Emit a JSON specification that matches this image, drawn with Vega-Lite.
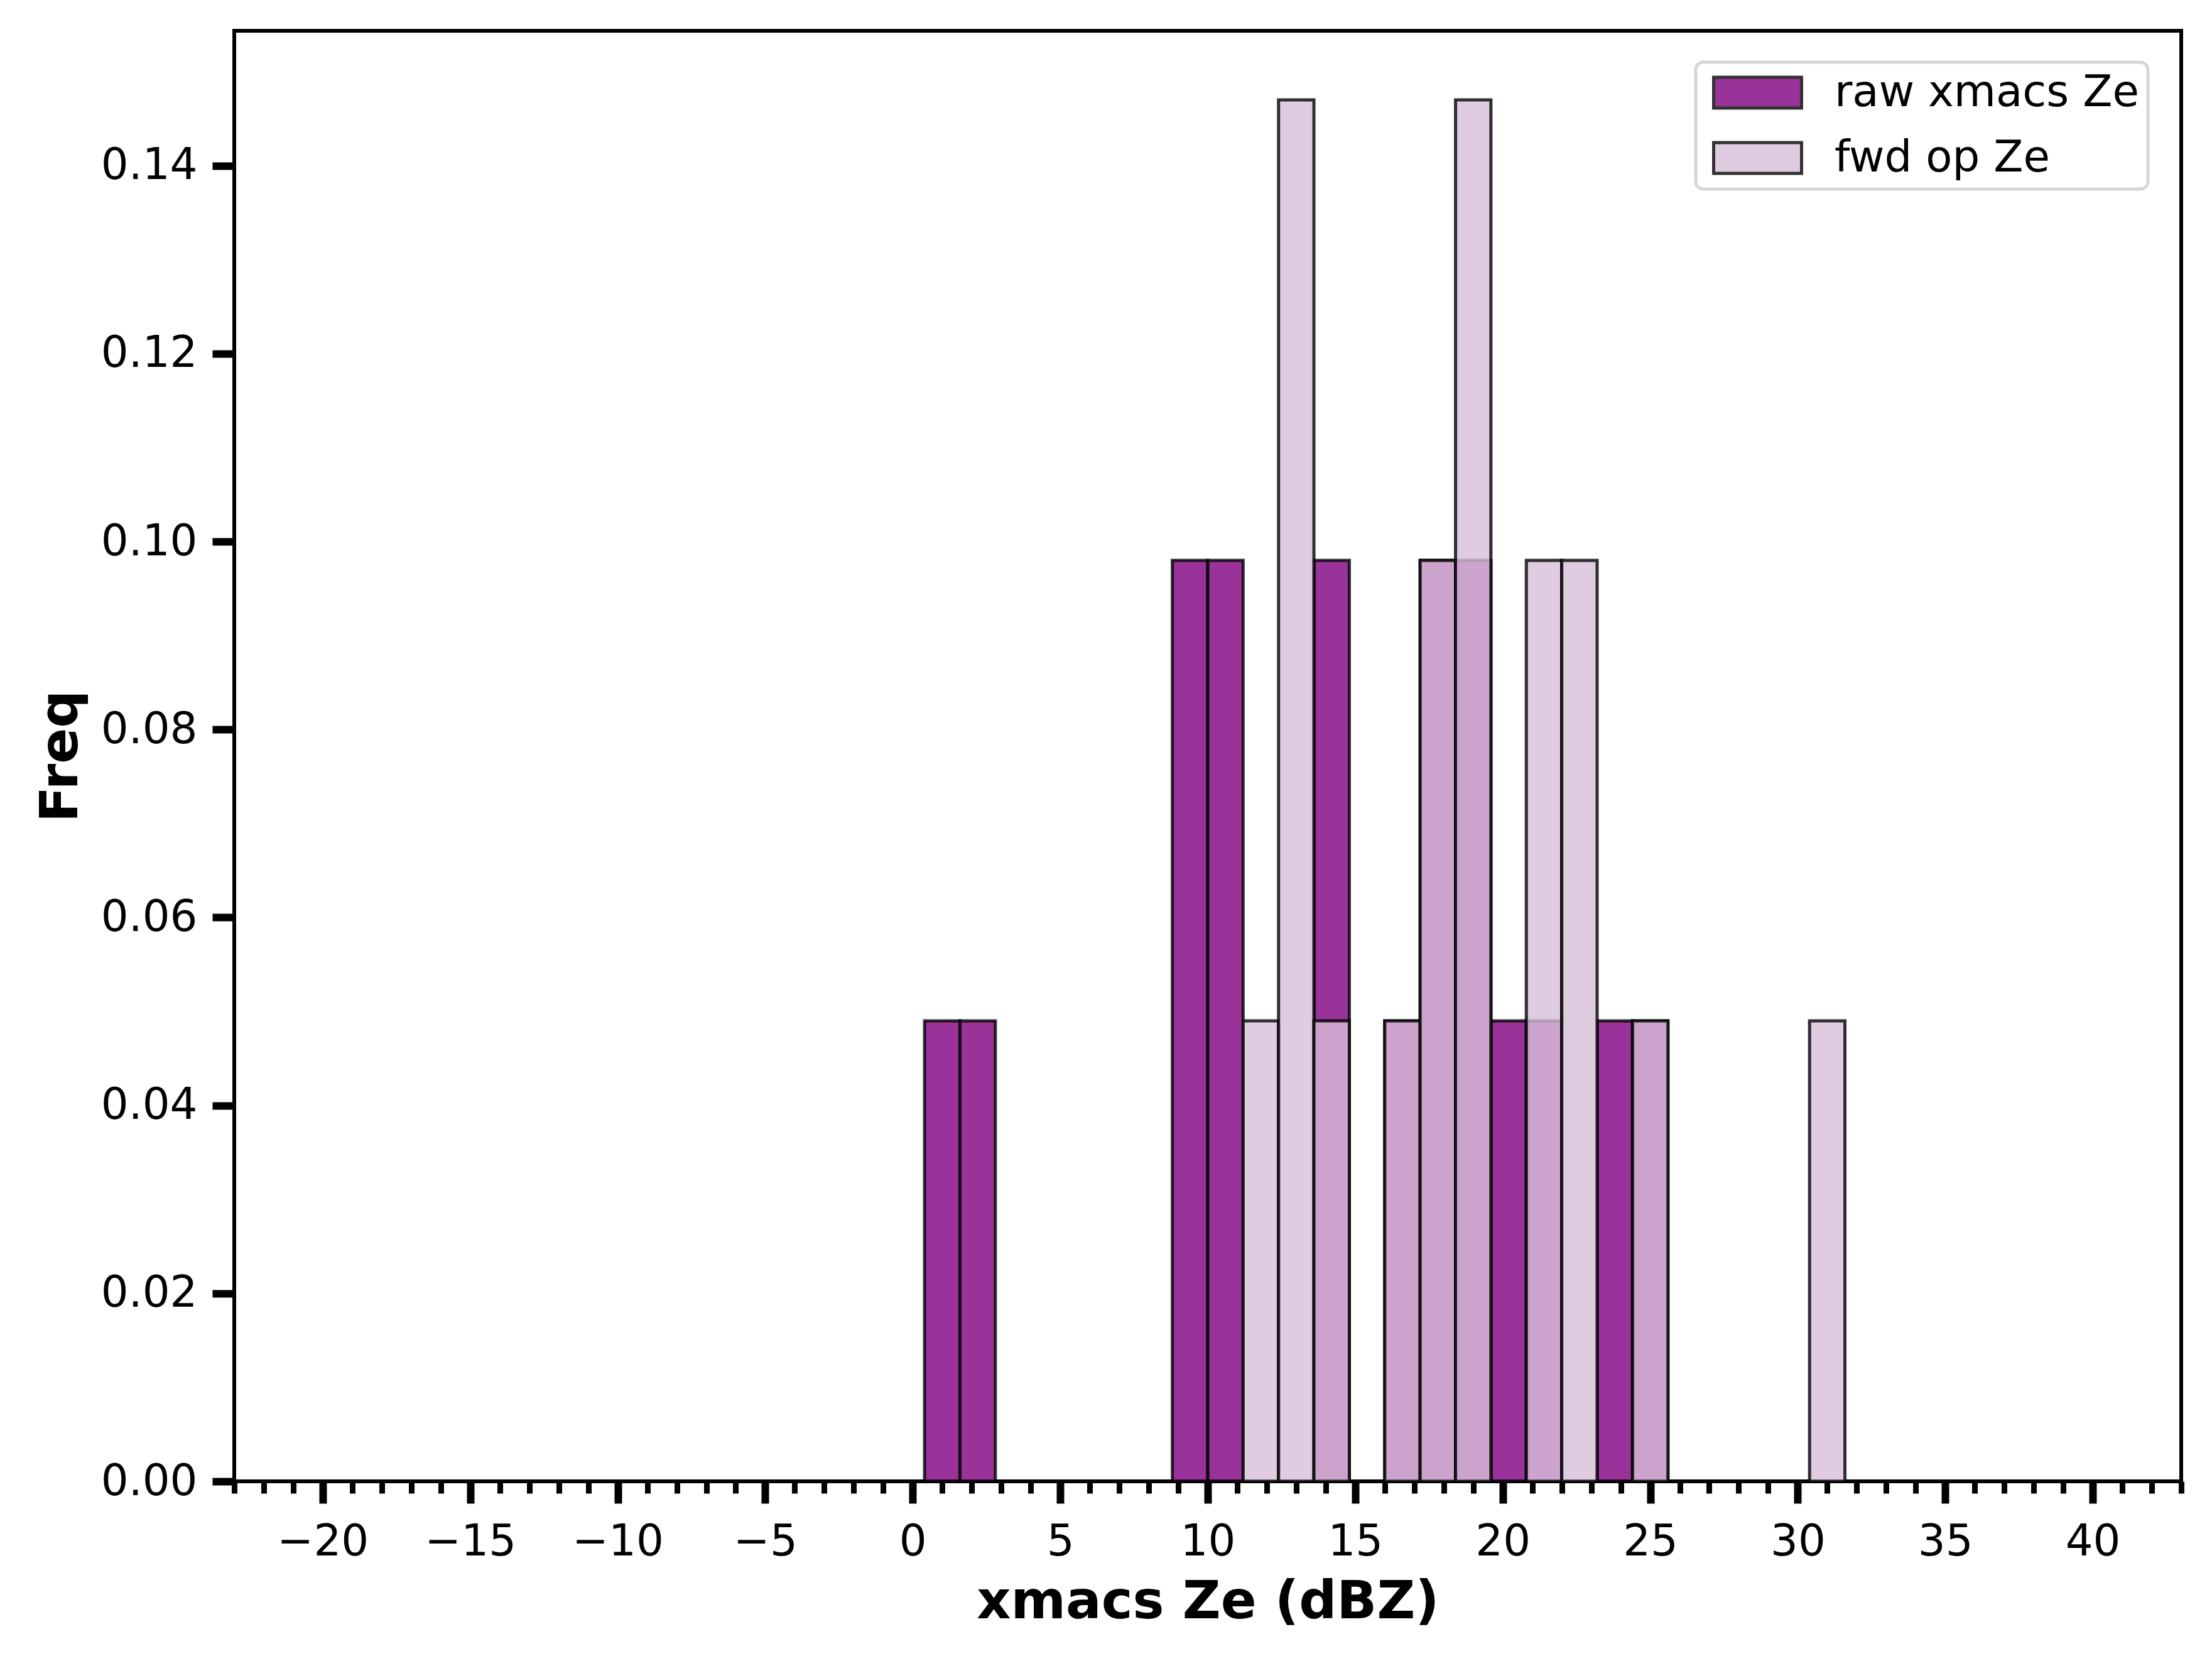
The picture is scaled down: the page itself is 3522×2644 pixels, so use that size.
{
  "$schema": "https://vega.github.io/schema/vega-lite/v6.json",
  "width": 3100,
  "height": 2309,
  "autosize": {"type": "none"},
  "padding": {"left": 373, "top": 49, "right": 49, "bottom": 286},
  "background": "white",
  "config": {
    "view": {"stroke": "black", "strokeWidth": 6},
    "font": "DejaVu Sans",
    "legend": {"strokeWidth": 5},
    "axis": {
      "labelFont": "DejaVu Sans",
      "labelFontSize": 69,
      "labelColor": "black",
      "titleFont": "DejaVu Sans",
      "titleFontSize": 84,
      "titleFontWeight": "bold",
      "titleColor": "black",
      "tickColor": "black",
      "domain": false,
      "grid": false
    }
  },
  "data": {
    "values": [
      {"series": "raw xmacs Ze", "bin_start": 0.4, "bin_end": 1.6, "freq": 0.049},
      {"series": "raw xmacs Ze", "bin_start": 1.6, "bin_end": 2.8, "freq": 0.049},
      {"series": "raw xmacs Ze", "bin_start": 8.8, "bin_end": 10.0, "freq": 0.098},
      {"series": "raw xmacs Ze", "bin_start": 10.0, "bin_end": 11.2, "freq": 0.098},
      {"series": "raw xmacs Ze", "bin_start": 13.6, "bin_end": 14.8, "freq": 0.098},
      {"series": "raw xmacs Ze", "bin_start": 16.0, "bin_end": 17.2, "freq": 0.049},
      {"series": "raw xmacs Ze", "bin_start": 17.2, "bin_end": 18.4, "freq": 0.098},
      {"series": "raw xmacs Ze", "bin_start": 18.4, "bin_end": 19.6, "freq": 0.098},
      {"series": "raw xmacs Ze", "bin_start": 19.6, "bin_end": 20.8, "freq": 0.049},
      {"series": "raw xmacs Ze", "bin_start": 20.8, "bin_end": 22.0, "freq": 0.049},
      {"series": "raw xmacs Ze", "bin_start": 23.2, "bin_end": 24.4, "freq": 0.049},
      {"series": "raw xmacs Ze", "bin_start": 24.4, "bin_end": 25.6, "freq": 0.049},
      {"series": "fwd op Ze", "bin_start": 11.2, "bin_end": 12.4, "freq": 0.049},
      {"series": "fwd op Ze", "bin_start": 12.4, "bin_end": 13.6, "freq": 0.147},
      {"series": "fwd op Ze", "bin_start": 13.6, "bin_end": 14.8, "freq": 0.049},
      {"series": "fwd op Ze", "bin_start": 16.0, "bin_end": 17.2, "freq": 0.049},
      {"series": "fwd op Ze", "bin_start": 17.2, "bin_end": 18.4, "freq": 0.098},
      {"series": "fwd op Ze", "bin_start": 18.4, "bin_end": 19.6, "freq": 0.147},
      {"series": "fwd op Ze", "bin_start": 20.8, "bin_end": 22.0, "freq": 0.098},
      {"series": "fwd op Ze", "bin_start": 22.0, "bin_end": 23.2, "freq": 0.098},
      {"series": "fwd op Ze", "bin_start": 24.4, "bin_end": 25.6, "freq": 0.049},
      {"series": "fwd op Ze", "bin_start": 30.4, "bin_end": 31.6, "freq": 0.049}
    ]
  },
  "mark": {
    "type": "bar",
    "stroke": "black",
    "strokeOpacity": 0.8,
    "fillOpacity": 0.8,
    "strokeWidth": 5
  },
  "encoding": {
    "x": {
      "field": "bin_start",
      "type": "quantitative",
      "scale": {"domain": [-23, 43], "nice": false, "zero": false},
      "axis": {
        "title": "xmacs Ze (dBZ)",
        "values": [-23,-22,-21,-20,-19,-18,-17,-16,-15,-14,-13,-12,-11,-10,-9,-8,-7,-6,-5,-4,-3,-2,-1,0,1,2,3,4,5,6,7,8,9,10,11,12,13,14,15,16,17,18,19,20,21,22,23,24,25,26,27,28,29,30,31,32,33,34,35,36,37,38,39,40,41,42,43],
        "labelExpr": "indexof([-20,-15,-10,-5,0,5,10,15,20,25,30,35,40], datum.value) >= 0 ? datum.label : ''",
        "labelOverlap": false,
        "labelFlush": false,
        "tickSize": {"condition": {"test": {"field": "value", "oneOf": [-20,-15,-10,-5,0,5,10,15,20,25,30,35,40]}, "value": 35}, "value": 19},
        "tickWidth": {"condition": {"test": {"field": "value", "oneOf": [-20,-15,-10,-5,0,5,10,15,20,25,30,35,40]}, "value": 12}, "value": 9},
        "labelPadding": 27,
        "titlePadding": 20
      }
    },
    "x2": {"field": "bin_end"},
    "y": {
      "field": "freq",
      "type": "quantitative",
      "stack": null,
      "scale": {"domain": [0, 0.15435], "nice": false},
      "axis": {
        "title": "Freq",
        "values": [0, 0.02, 0.04, 0.06, 0.08, 0.1, 0.12, 0.14],
        "format": ".2f",
        "tickSize": 35,
        "tickWidth": 12,
        "labelPadding": 24,
        "titlePadding": 33
      }
    },
    "y2": {"datum": 0},
    "fill": {
      "field": "series",
      "type": "nominal",
      "scale": {"domain": ["raw xmacs Ze", "fwd op Ze"], "range": ["purple", "thistle"]},
      "legend": {
        "title": null,
        "orient": "none",
        "legendX": 2327,
        "legendY": 50,
        "padding": 14,
        "fillColor": "white",
        "strokeColor": "#d6d6d6",
        "cornerRadius": 12,
        "symbolType": "M-2.333,-0.817H2.333V0.817H-2.333Z",
        "symbolSize": 3600,
        "symbolOffset": 50,
        "symbolStrokeColor": "black",
        "symbolStrokeWidth": 5,
        "symbolOpacity": 0.8,
        "labelFont": "DejaVu Sans",
        "labelFontSize": 69,
        "labelColor": "black",
        "labelLimit": 1000,
        "labelOffset": 88,
        "rowPadding": 33
      }
    }
  }
}
